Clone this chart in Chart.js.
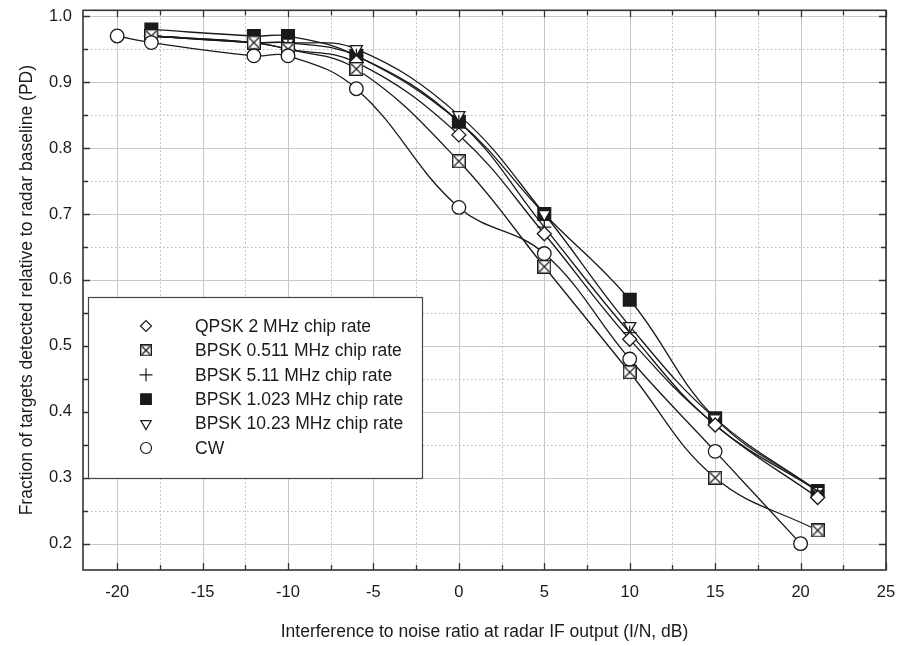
<!DOCTYPE html>
<html>
<head>
<meta charset="utf-8">
<script src="https://cdn.jsdelivr.net/npm/chart.js@4/dist/chart.umd.min.js"></script>
<style>
  html, body { margin: 0; padding: 0; background: #fff; }
  #wrap { width: 898px; height: 646px; }
</style>
</head>
<body>
<div id="wrap"><canvas id="pd"></canvas></div>
<script>
// I/N values (dB) where each waveform was measured
const xSpread = [-18, -12, -10, -6, 0, 5, 10, 15, 21];
const xCw = [-20, -18, -12, -10, -6, 0, 5, 10, 15, 20];

const qpsk2 = [0.97, 0.96, 0.95, 0.93, 0.82, 0.67, 0.51, 0.38, 0.27];
const bpsk0511 = [0.97, 0.96, 0.95, 0.92, 0.78, 0.62, 0.46, 0.30, 0.22];
const bpsk511 = [0.97, 0.96, 0.96, 0.94, 0.84, 0.68, 0.52, 0.38, 0.28];
const bpsk1023 = [0.98, 0.97, 0.97, 0.94, 0.84, 0.70, 0.57, 0.39, 0.28];
const bpsk1023b = [0.97, 0.96, 0.96, 0.95, 0.85, 0.70, 0.53, 0.39, 0.28];
const cw = [0.97, 0.96, 0.94, 0.94, 0.89, 0.71, 0.64, 0.48, 0.34, 0.20];

const seriesNames = [
  `QPSK 2 MHz chip rate`,
  `BPSK 0.511 MHz chip rate`,
  `BPSK 5.11 MHz chip rate`,
  `BPSK 1.023 MHz chip rate`,
  `BPSK 10.23 MHz chip rate`,
  `CW`,
];

const xTicks = [-20, -15, -10, -5, 0, 5, 10, 15, 20, 25];
const yTicks = [0.2, 0.3, 0.4, 0.5, 0.6, 0.7, 0.8, 0.9, 1.0];

const INK = `#1a1a1a`;
const FONT = `"Liberation Sans", Arial, Helvetica, sans-serif`;

// square with an X through it, used as a point style
const boxedX = (size) => {
  const c = document.createElement(`canvas`);
  c.width = size;
  c.height = size;
  const g = c.getContext(`2d`);
  g.strokeStyle = INK;
  g.lineWidth = 1.4;
  g.fillStyle = `#fff`;
  g.fillRect(0.5, 0.5, size - 1, size - 1);
  g.strokeRect(0.7, 0.7, size - 1.4, size - 1.4);
  g.lineWidth = 1.2;
  g.beginPath();
  g.moveTo(2, 2);
  g.lineTo(size - 2, size - 2);
  g.moveTo(size - 2, 2);
  g.lineTo(2, size - 2);
  g.stroke();
  return c;
};

const toPoints = (xs, ys) => xs.map((x, i) => ({x, y: ys[i]}));

const markers = [
  {pointStyle: `rectRot`, radius: 7, rotation: 0, fill: `#fff`, legendRadius: 5.5},
  {pointStyle: boxedX(14), radius: 7, rotation: 0, fill: `#fff`, legendStyle: boxedX(12), legendRadius: 6},
  {pointStyle: `cross`, radius: 7, rotation: 0, fill: `#fff`, legendRadius: 6.5},
  {pointStyle: `rect`, radius: 9, rotation: 0, fill: INK, legendRadius: 7.5},
  {pointStyle: `triangle`, radius: 7, rotation: 180, fill: `#fff`, legendRadius: 6},
  {pointStyle: `circle`, radius: 6.8, rotation: 0, fill: `#fff`, legendRadius: 5.5},
];

const makeSet = (idx, xs, ys) => ({
  label: seriesNames[idx],
  data: toPoints(xs, ys),
  borderColor: INK,
  borderWidth: 1.3,
  tension: 0.4,
  pointStyle: markers[idx].pointStyle,
  pointRadius: markers[idx].radius,
  pointRotation: markers[idx].rotation,
  pointBackgroundColor: markers[idx].fill,
  pointBorderColor: INK,
  pointBorderWidth: 1.3,
});

const datasets = [
  makeSet(5, xCw, cw),
  makeSet(1, xSpread, bpsk0511),
  makeSet(0, xSpread, qpsk2),
  makeSet(2, xSpread, bpsk511),
  makeSet(4, xSpread, bpsk1023b),
  makeSet(3, xSpread, bpsk1023),
];

// grid: solid light lines on labelled ticks, dotted ones halfway between
const gridPlugin = {
  id: `gridLines`,
  beforeDatasetsDraw(chart) {
    const {ctx, chartArea: a, scales: {x, y}} = chart;
    ctx.save();
    ctx.lineWidth = 1;
    for (let v = -20; v <= 25; v += 2.5) {
      const px = Math.round(x.getPixelForValue(v)) + 0.5;
      const major = v % 5 === 0;
      ctx.strokeStyle = major ? `#c8c8c8` : `#b4b4b4`;
      ctx.setLineDash(major ? [] : [1.5, 2.5]);
      ctx.beginPath();
      ctx.moveTo(px, a.top);
      ctx.lineTo(px, a.bottom);
      ctx.stroke();
    }
    for (let i = 4; i <= 20; i++) {
      const py = Math.round(y.getPixelForValue(i * 0.05)) + 0.5;
      const major = i % 2 === 0;
      ctx.strokeStyle = major ? `#c8c8c8` : `#b4b4b4`;
      ctx.setLineDash(major ? [] : [1.5, 2.5]);
      ctx.beginPath();
      ctx.moveTo(a.left, py);
      ctx.lineTo(a.right, py);
      ctx.stroke();
    }
    ctx.restore();
  },
};

// frame with inward ticks on all four sides, then the boxed legend
const framePlugin = {
  id: `frameLegend`,
  afterDatasetsDraw(chart) {
    const {ctx, chartArea: a, scales: {x, y}} = chart;
    ctx.save();
    ctx.strokeStyle = `#333`;
    ctx.lineWidth = 1.6;
    ctx.strokeRect(a.left, a.top, a.right - a.left, a.bottom - a.top);
    ctx.lineWidth = 1.3;
    ctx.beginPath();
    for (let v = -20; v <= 25; v += 2.5) {
      const px = Math.round(x.getPixelForValue(v)) + 0.5;
      const len = v % 5 === 0 ? 7 : 5;
      ctx.moveTo(px, a.bottom);
      ctx.lineTo(px, a.bottom - len);
      ctx.moveTo(px, a.top);
      ctx.lineTo(px, a.top + len);
    }
    for (let i = 4; i <= 20; i++) {
      const py = Math.round(y.getPixelForValue(i * 0.05)) + 0.5;
      const len = i % 2 === 0 ? 7 : 5;
      ctx.moveTo(a.left, py);
      ctx.lineTo(a.left + len, py);
      ctx.moveTo(a.right, py);
      ctx.lineTo(a.right - len, py);
    }
    ctx.stroke();

    // legend box
    const bx = 88, by = 297, bw = 334, bh = 181;
    ctx.fillStyle = `#fff`;
    ctx.fillRect(bx, by, bw, bh);
    ctx.strokeStyle = `#444`;
    ctx.lineWidth = 1.2;
    ctx.strokeRect(bx + 0.5, by + 0.5, bw, bh);
    ctx.font = `17.5px ${FONT}`;
    ctx.textBaseline = `middle`;
    seriesNames.forEach((name, i) => {
      const cy = 326 + i * 24.4;
      const m = markers[i];
      ctx.strokeStyle = INK;
      ctx.fillStyle = m.fill;
      ctx.lineWidth = 1.2;
      Chart.helpers.drawPoint(ctx, {
        pointStyle: m.legendStyle || m.pointStyle,
        radius: m.legendRadius,
        rotation: m.rotation,
        borderWidth: 1.2,
      }, 146, cy);
      ctx.fillStyle = INK;
      ctx.fillText(name, 195, cy + 1);
    });
    ctx.restore();
  },
};

new Chart(document.getElementById(`pd`), {
  type: `line`,
  data: {datasets},
  plugins: [gridPlugin, framePlugin],
  options: {
    responsive: true,
    maintainAspectRatio: false,
    animation: false,
    layout: {padding: {top: 10, right: 12, left: 0, bottom: 0}},
    plugins: {legend: {display: false}, tooltip: {enabled: false}},
    scales: {
      x: {
        type: `linear`,
        min: -22,
        max: 25,
        afterBuildTicks: (s) => { s.ticks = xTicks.map((value) => ({value})); },
        afterFit: (s) => {
          s.height = 76;
          s.paddingLeft = 0;
          s.paddingRight = 0;
        },
        grid: {display: false, drawTicks: false},
        border: {display: false},
        ticks: {color: INK, padding: 13, font: {family: FONT, size: 16.5}},
        title: {
          display: true,
          text: `Interference to noise ratio at radar IF output (I/N, dB)`,
          color: INK,
          font: {family: FONT, size: 17.5},
          padding: {top: 0, bottom: 3},
        },
      },
      y: {
        type: `linear`,
        min: 0.16,
        max: 1.009,
        afterBuildTicks: (s) => { s.ticks = yTicks.map((value) => ({value})); },
        afterFit: (s) => {
          s.width = 83;
          s.paddingTop = 0;
          s.paddingBottom = 0;
        },
        grid: {display: false, drawTicks: false},
        border: {display: false},
        ticks: {
          color: INK,
          padding: 11,
          font: {family: FONT, size: 16.5},
          callback: (v) => v.toFixed(1),
        },
        title: {
          display: true,
          text: `Fraction of targets detected relative to radar baseline (PD)`,
          color: INK,
          font: {family: FONT, size: 17.5},
          padding: {top: 17, bottom: 0},
        },
      },
    },
  },
});
</script>
</body>
</html>
